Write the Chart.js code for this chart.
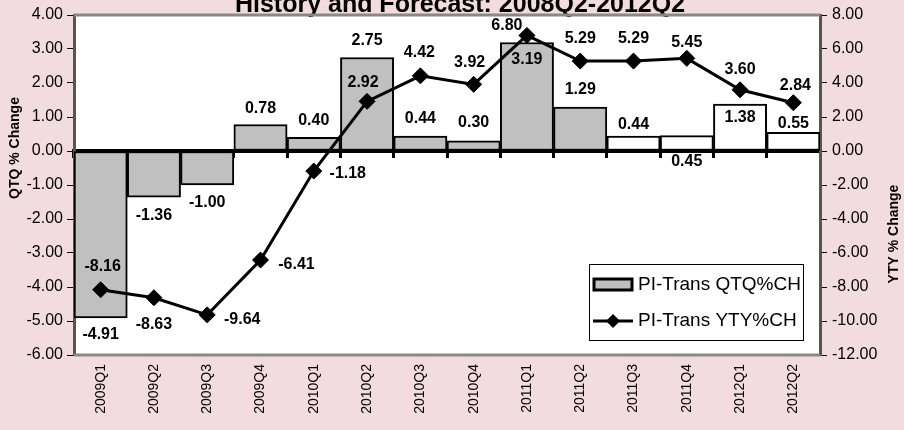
<!DOCTYPE html>
<html>
<head>
<meta charset="utf-8">
<script src="https://cdn.jsdelivr.net/npm/chart.js@4.4.1/dist/chart.umd.min.js"></script>
<style>
  html, body { margin: 0; padding: 0; background: #F2DCE1; }
  #wrap { width: 904px; height: 430px; position: relative; }
</style>
</head>
<body>
<div id="wrap"><canvas id="chart"></canvas></div>
<script>
// Quarters shown on the category axis
const quarters = ['2009Q1', '2009Q2', '2009Q3', '2009Q4', '2010Q1', '2010Q2', '2010Q3',
                  '2010Q4', '2011Q1', '2011Q2', '2011Q3', '2011Q4', '2012Q1', '2012Q2'];

// Quarter-to-quarter % change (bars, left axis)
const qtqChange = [-4.91, -1.36, -1.00, 0.78, 0.40, 2.75, 0.44, 0.30, 3.19, 1.29, 0.44, 0.45, 1.38, 0.55];

// Year-to-year % change (line, right axis)
const ytyChange = [-8.16, -8.63, -9.64, -6.41, -1.18, 2.92, 4.42, 3.92, 6.80, 5.29, 5.29, 5.45, 3.60, 2.84];

// Axis ranges and tick steps
const qtqAxis = { min: -6, max: 4, step: 1 };
const ytyAxis = { min: -12, max: 8, step: 2 };

// Index of the first forecast quarter (drawn as hollow bars)
const firstForecast = 10;

const titleText = 'History and Forecast: 2008Q2-2012Q2';
const qtqLabel = 'PI-Trans QTQ%CH';
const ytyLabel = 'PI-Trans YTY%CH';

// Value-label nudges in pixels [dx, dy], measured from the bar end / line point
const qtqLabelShift = [[0, 17], [0, 18], [0, 18], [0, -16], [0, -17], [0, -17], [0, -17],
                       [0, -18], [0, 17], [0, -18], [0, -11], [0, 26], [0, 14], [0, -9]];
const ytyLabelShift = [[2, -23], [0, 27], [35, 5], [36, 5], [34, 3], [-4, -19], [-1, -23],
                       [-4, -22], [-20, -10], [0, -22], [0, -22], [0, -16], [0, -20], [2, -17]];

const FONT = '"Liberation Sans", Arial, sans-serif';
const barFill = quarters.map((q, i) => i < firstForecast ? '#C0C0C0' : '#FFFFFF');

// Page background, white plot area, frame, titles, value labels and legend
const decor = {
  id: 'decor',
  beforeDraw(chart) {
    const { ctx, chartArea: a } = chart;
    ctx.save();
    ctx.fillStyle = '#F2DCE1';
    ctx.fillRect(0, 0, chart.width, chart.height);
    ctx.fillStyle = '#FFFFFF';
    ctx.fillRect(a.left, a.top, a.right - a.left, a.bottom - a.top);
    ctx.restore();
  },
  afterDatasetsDraw(chart) {
    const { ctx, chartArea: a } = chart;
    ctx.save();
    // chart title (partly above the top edge of the canvas)
    ctx.fillStyle = '#000';
    ctx.textAlign = 'center';
    ctx.font = 'bold 25px ' + FONT;
    ctx.textBaseline = 'alphabetic';
    ctx.fillText(titleText, (a.left + a.right) / 2 + 13, 12);

    // frame top / bottom
    ctx.strokeStyle = '#888888';
    ctx.lineWidth = 3;
    ctx.beginPath();
    ctx.moveTo(a.left, a.top); ctx.lineTo(a.right, a.top);
    ctx.moveTo(a.left, a.bottom); ctx.lineTo(a.right, a.bottom);
    ctx.stroke();

    // value labels
    ctx.fillStyle = '#000';
    ctx.font = 'bold 16px ' + FONT;
    ctx.textBaseline = 'middle';
    chart.getDatasetMeta(1).data.forEach((el, i) => {
      const [dx, dy] = qtqLabelShift[i];
      ctx.fillText(qtqChange[i].toFixed(2), el.x + dx, el.y + dy);
    });
    chart.getDatasetMeta(0).data.forEach((el, i) => {
      const [dx, dy] = ytyLabelShift[i];
      ctx.fillText(ytyChange[i].toFixed(2), el.x + dx, el.y + dy);
    });

    // axis titles
    ctx.font = 'bold 14px ' + FONT;
    ctx.save();
    ctx.translate(15, 148);
    ctx.rotate(-Math.PI / 2);
    ctx.fillText('QTQ % Change', 0, 0);
    ctx.restore();
    ctx.save();
    ctx.translate(894, 234);
    ctx.rotate(-Math.PI / 2);
    ctx.fillText('YTY % Change', 0, 0);
    ctx.restore();

    // legend
    const lx = a.right - 231, ly = a.bottom - 91, lw = 214, lh = 76;
    ctx.fillStyle = '#FFFFFF';
    ctx.fillRect(lx, ly, lw, lh);
    ctx.strokeStyle = '#000';
    ctx.lineWidth = 1;
    ctx.strokeRect(lx + 0.5, ly + 0.5, lw, lh);
    ctx.fillStyle = '#C0C0C0';
    ctx.fillRect(lx + 5, ly + 15, 38, 11);
    ctx.lineWidth = 3;
    ctx.strokeRect(lx + 5, ly + 15, 38, 11);
    ctx.beginPath();
    ctx.moveTo(lx + 4, ly + 57); ctx.lineTo(lx + 44, ly + 57);
    ctx.stroke();
    ctx.fillStyle = '#000';
    ctx.beginPath();
    ctx.moveTo(lx + 24, ly + 50); ctx.lineTo(lx + 31, ly + 57);
    ctx.lineTo(lx + 24, ly + 64); ctx.lineTo(lx + 17, ly + 57);
    ctx.closePath(); ctx.fill();
    ctx.font = '19px ' + FONT;
    ctx.textAlign = 'left';
    ctx.fillText(qtqLabel, lx + 49, ly + 21);
    ctx.fillText(ytyLabel, lx + 49, ly + 57);
    ctx.restore();
  }
};

new Chart(document.getElementById('chart'), {
  type: 'bar',
  data: {
    labels: quarters,
    datasets: [
      {
        type: 'line',
        label: ytyLabel,
        data: ytyChange,
        yAxisID: 'y1',
        xAxisID: 'x',
        order: 0,
        borderColor: '#000',
        borderWidth: 3,
        tension: 0,
        pointStyle: 'rectRot',
        pointRadius: 8,
        pointBackgroundColor: '#000',
        pointBorderColor: '#000',
        pointBorderWidth: 1
      },
      {
        type: 'bar',
        label: qtqLabel,
        data: qtqChange,
        yAxisID: 'y',
        xAxisID: 'x',
        order: 1,
        backgroundColor: barFill,
        borderColor: '#000',
        borderWidth: 2,
        borderSkipped: false,
        categoryPercentage: 1,
        barPercentage: 1
      }
    ]
  },
  options: {
    responsive: true,
    maintainAspectRatio: false,
    animation: false,
    devicePixelRatio: 1,
    layout: { padding: { top: 15, left: 0, right: 0, bottom: 0 } },
    plugins: { legend: { display: false }, tooltip: { enabled: false }, title: { display: false } },
    scales: {
      x: {
        type: 'category',
        position: 'bottom',
        offset: true,
        grid: { display: false },
        border: { display: false },
        ticks: {
          color: '#000',
          font: { family: FONT, size: 14 },
          minRotation: 90,
          maxRotation: 90,
          padding: 1,
          autoSkip: false
        },
        afterFit(s) { s.height = 75; }
      },
      x0: {
        type: 'category',
        axis: 'x',
        position: { y: 0 },
        offset: true,
        grid: { offset: true, drawOnChartArea: false, drawTicks: true, tickLength: 5, color: '#000', lineWidth: 3 },
        border: { display: true, color: '#000', width: 4 },
        ticks: { display: false }
      },
      y: {
        position: 'left',
        min: qtqAxis.min,
        max: qtqAxis.max,
        grid: { drawOnChartArea: false, tickLength: 7, color: '#000', lineWidth: 1 },
        border: { display: true, color: '#555', width: 3 },
        ticks: {
          stepSize: qtqAxis.step,
          color: '#000',
          font: { family: FONT, size: 16 },
          padding: 4,
          callback: v => Number(v).toFixed(2)
        },
        afterFit(s) { s.width = 74; }
      },
      y1: {
        position: 'right',
        min: ytyAxis.min,
        max: ytyAxis.max,
        grid: { drawOnChartArea: false, tickLength: 7, color: '#000', lineWidth: 1 },
        border: { display: true, color: '#555', width: 3 },
        ticks: {
          stepSize: ytyAxis.step,
          color: '#000',
          font: { family: FONT, size: 16 },
          padding: 5,
          callback: v => Number(v).toFixed(2)
        },
        afterFit(s) { s.width = 84; }
      }
    }
  },
  plugins: [decor]
});
</script>
</body>
</html>
